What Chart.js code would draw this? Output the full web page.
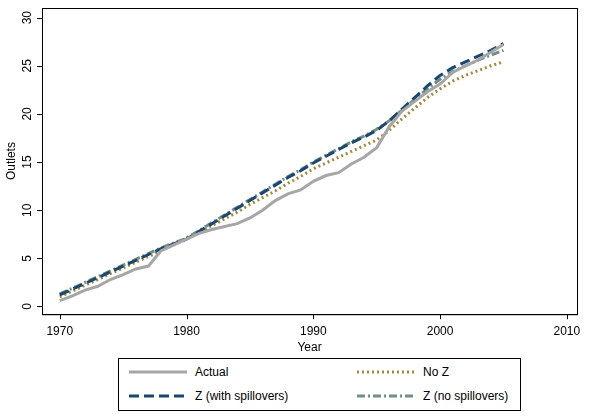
<!DOCTYPE html>
<html>
<head>
<script src="https://cdn.jsdelivr.net/npm/chart.js@4"></script>
<style>
body { margin: 0; background: #fff; font-family: "Liberation Sans", Arial, sans-serif; }
#wrap { position: relative; width: 613px; height: 355px; }
#legend { position: absolute; left: 118px; top: 358px; width: 403px; height: 53px; border: 1px solid #000; box-sizing: border-box; font-size: 12px; }
.item { position: absolute; display: flex; align-items: center; }
.item svg { margin-right: 8px; }
</style>
</head>
<body>
<div id="wrap"><canvas id="chart"></canvas></div>
<div id="legend"></div>
<script>
const years = [];
for (let y = 1970; y <= 2005; y++) years.push(y);

const actual = [0.6, 1.1, 1.7, 2.1, 2.8, 3.3, 3.9, 4.2, 5.8, 6.4, 7.0, 7.6, 8.0, 8.3, 8.6, 9.2, 10.0, 11.0, 11.7, 12.1, 13.0, 13.6, 13.9, 14.8, 15.5, 16.5, 18.7, 20.3, 21.3, 22.3, 23.1, 24.3, 25.0, 25.6, 26.4, 27.2];
const zWith = [1.2, 1.8, 2.4, 3.0, 3.6, 4.2, 4.8, 5.4, 6.0, 6.5, 7.0, 7.8, 8.6, 9.4, 10.2, 11.0, 11.8, 12.6, 13.4, 14.1, 14.9, 15.6, 16.3, 17.0, 17.6, 18.3, 19.3, 20.5, 21.7, 22.9, 24.0, 24.8, 25.4, 26.0, 26.6, 27.3];
const noZ = [1.0, 1.6, 2.2, 2.8, 3.4, 4.0, 4.6, 5.2, 5.8, 6.4, 7.0, 7.7, 8.4, 9.1, 9.8, 10.6, 11.3, 12.0, 12.8, 13.5, 14.3, 14.9, 15.5, 16.1, 16.7, 17.3, 18.3, 19.5, 20.6, 21.7, 22.6, 23.4, 24.0, 24.5, 25.0, 25.4];
const zNoSpill = [1.3, 1.9, 2.5, 3.1, 3.7, 4.3, 4.9, 5.5, 6.1, 6.6, 7.1, 7.9, 8.7, 9.5, 10.3, 11.1, 11.9, 12.7, 13.5, 14.2, 15.0, 15.7, 16.4, 17.1, 17.7, 18.4, 19.3, 20.4, 21.5, 22.6, 23.6, 24.4, 25.0, 25.6, 26.1, 26.6];
const yTicks = [0, 5, 10, 15, 20, 25, 30];
const xTicks = [1970, 1980, 1990, 2000, 2010];

const series = [
  { label: 'Actual', data: actual, color: '#a6a6a6', dash: [] },
  { label: 'No Z', data: noZ, color: '#a38a3e', dash: [2, 3] },
  { label: 'Z (with spillovers)', data: zWith, color: '#1a476f', dash: [10, 5] },
  { label: 'Z (no spillovers)', data: zNoSpill, color: '#6f8f86', dash: [8, 3, 2, 3] }
];

const yLabels = {
  id: 'yLabels',
  afterDraw(c) {
    const ctx = c.ctx, s = c.scales.y;
    ctx.save();
    ctx.fillStyle = '#000';
    ctx.font = '12px "Liberation Sans", Arial';
    ctx.textAlign = 'center';
    ctx.textBaseline = 'bottom';
    yTicks.forEach(v => {
      ctx.save();
      ctx.translate(s.right - 8, s.getPixelForValue(v));
      ctx.rotate(-Math.PI / 2);
      ctx.fillText(String(v), 0, 0);
      ctx.restore();
    });
    ctx.restore();
  }
};

new Chart(document.getElementById('chart'), {
  type: 'line',
  data: {
    datasets: [series[0], series[2], series[3], series[1]].map(s => ({
      label: s.label,
      data: s.data.map((v, i) => ({ x: years[i], y: v })),
      borderColor: s.color,
      borderDash: s.dash,
      borderWidth: 3,
      pointRadius: 0,
      tension: 0
    }))
  },
  options: {
    responsive: true,
    maintainAspectRatio: false,
    animation: false,
    layout: { padding: { top: 8, right: 36, left: 4, bottom: 0 } },
    plugins: { legend: { display: false }, tooltip: { enabled: false } },
    scales: {
      x: {
        type: 'linear', min: 1968.6, max: 2010.8,
        afterBuildTicks: a => { a.ticks = xTicks.map(v => ({ value: v })); },
        grid: { display: false },
        border: { color: '#000' },
        ticks: { color: '#000', font: { size: 12, family: '"Liberation Sans", Arial' }, maxRotation: 0, padding: 2, callback: v => String(v) },
        title: { display: true, text: 'Year', color: '#000', font: { size: 12 }, padding: 0 }
      },
      y: {
        min: -0.8, max: 31,
        afterBuildTicks: a => { a.ticks = yTicks.map(v => ({ value: v })); },
        afterFit: a => { a.width = 38; },
        grid: { display: false },
        border: { color: '#000' },
        ticks: { display: false },
        title: { display: true, text: 'Outlets', color: '#000', font: { size: 12 }, padding: 0 }
      }
    }
  },
  plugins: [yLabels, {
    id: 'frame',
    afterDraw(c) {
      const a = c.chartArea, ctx = c.ctx;
      ctx.save();
      ctx.strokeStyle = '#000'; ctx.lineWidth = 1;
      ctx.strokeRect(a.left + 0.5, a.top + 0.5, a.right - a.left, a.bottom - a.top);
      ctx.beginPath();
      yTicks.forEach(v => { const p = Math.round(c.scales.y.getPixelForValue(v)) + 0.5; ctx.moveTo(a.left - 5, p); ctx.lineTo(a.left, p); });
      xTicks.forEach(v => { const p = Math.round(c.scales.x.getPixelForValue(v)) + 0.5; ctx.moveTo(p, a.bottom); ctx.lineTo(p, a.bottom + 5); });
      ctx.stroke();
      ctx.restore();
    }
  }]
});

const legend = document.getElementById('legend');
const pos = [[10, 6], [238, 6], [10, 30], [238, 30]];
series.forEach((s, i) => {
  const d = document.createElement('div');
  d.className = 'item';
  d.style.left = pos[i][0] + 'px';
  d.style.top = pos[i][1] + 'px';
  d.innerHTML = `<svg width="58" height="8"><line x1="0" y1="4" x2="58" y2="4" stroke="${s.color}" stroke-width="3" stroke-dasharray="${s.dash.join(' ') || 'none'}"/></svg>${s.label}`;
  legend.appendChild(d);
});
</script>
</body>
</html>
